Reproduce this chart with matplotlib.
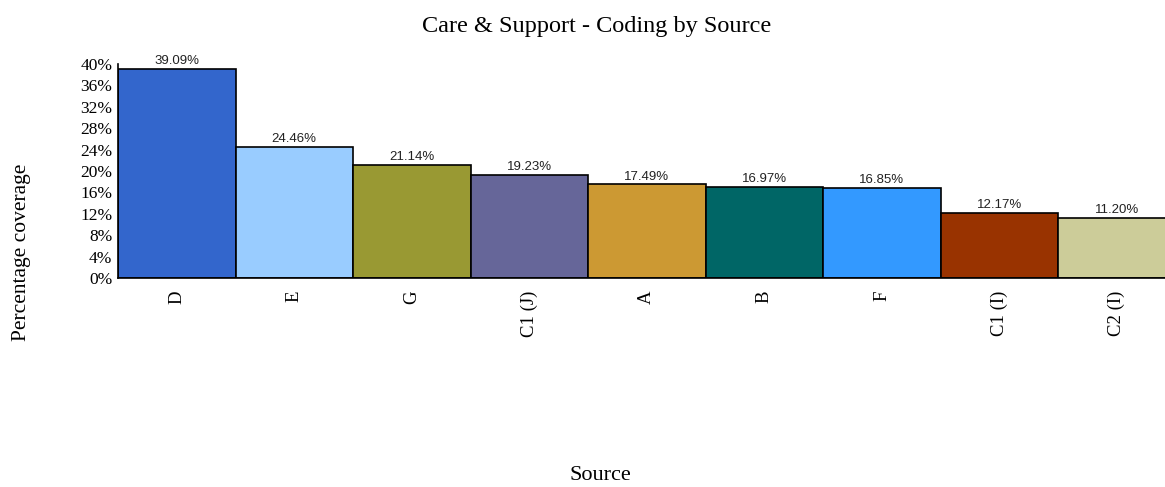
import matplotlib.pyplot as plt

sources = ["D", "E", "G", "C1 (J)", "A", "B", "F", "C1 (I)", "C2 (I)"]
coverage = [39.09, 24.46, 21.14, 19.23, 17.49, 16.97, 16.85, 12.17, 11.20]
colors = ["#3366CC", "#99CCFF", "#999933", "#666699", "#CC9933",
          "#006666", "#3399FF", "#993300", "#CCCC99"]
yticks = list(range(0, 41, 4))

serif = ["Liberation Serif", "DejaVu Serif"]
sans = ["Liberation Sans", "DejaVu Sans"]

fig = plt.figure(figsize=(11.65, 4.87), dpi=100)
ax = fig.add_axes([118 / 1165, 209 / 487, 1047 / 1165, 214 / 487])

pos = list(range(len(sources)))
ax.bar(pos, coverage, width=1, align="edge", color=colors,
       edgecolor="black", linewidth=1.2)
for x, v in zip(pos, coverage):
    ax.text(x + 0.5, v + 0.35, f"{v:.2f}%", ha="center", va="bottom",
            fontsize=9.5, family=sans, color="#222222")

ax.set_xlim(0, 1047 / 117.5)
ax.set_ylim(0, 40)
ax.set_yticks(yticks)
ax.set_yticklabels([f"{t}%" for t in yticks], family=serif, fontsize=12.5)
ax.set_xticks([p + 0.5 for p in pos])
ax.set_xticklabels(sources, rotation=90, family=serif, fontsize=13.5)
ax.tick_params(axis="y", length=0, pad=4)
ax.tick_params(axis="x", length=0, pad=9)
ax.spines["top"].set_visible(False)
ax.spines["right"].set_visible(False)
ax.spines["left"].set_linewidth(1.2)
ax.spines["bottom"].set_linewidth(1.2)

fig.text(597 / 1165, 1 - 26.5 / 487, "Care & Support - Coding by Source",
         ha="center", va="center", family=serif, fontsize=17.5)
fig.text(600 / 1165, 1 - 476 / 487, "Source", ha="center", va="center",
         family=serif, fontsize=16)
fig.text(22 / 1165, 1 - 252 / 487, "Percentage coverage", rotation=90,
         ha="center", va="center", family=serif, fontsize=15.5)

fig.savefig("out.png", dpi=100)
